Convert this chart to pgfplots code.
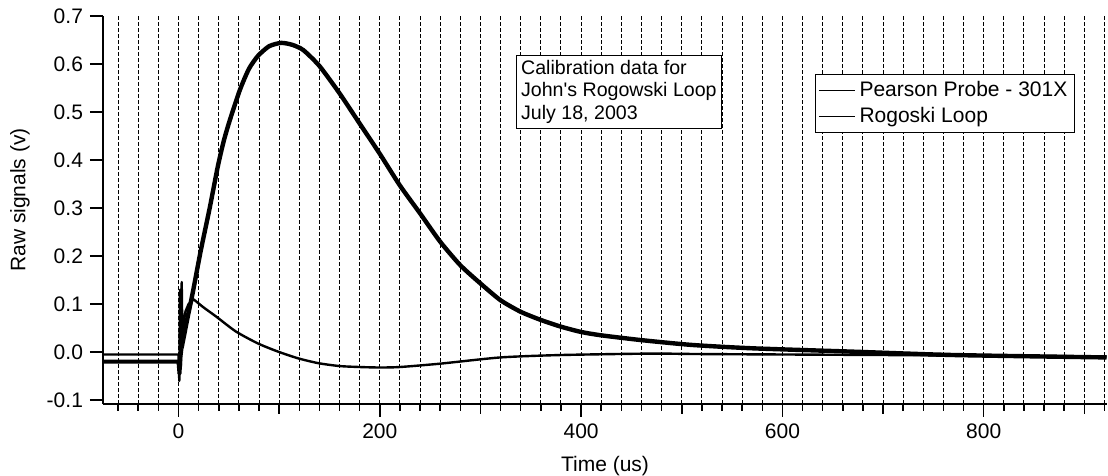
\documentclass[border=0pt]{standalone}
\usepackage{fontspec}
\setmainfont{Liberation Sans}[Ligatures=TeXOff]
\usepackage{pgfplots}
\pgfplotsset{compat=1.18}

% Pearson probe (us, V): trigger part
\pgfplotstableread{
t v
-75 -0.020
-40 -0.020
0 -0.020
1 -0.045
2 -0.010
3 0.008
}\pearsonpre

% Pearson probe, main pulse
\pgfplotstableread{
t v
3 0.008
6 0.040
9 0.072
14 0.122
22 0.210
31 0.300
39 0.386
45 0.440
51 0.483
61 0.546
70 0.590
79 0.617
90 0.637
102 0.644
113 0.640
124 0.629
140 0.596
160 0.539
180 0.476
200 0.413
220 0.347
240 0.289
260 0.230
280 0.181
300 0.143
320 0.108
340 0.084
360 0.067
380 0.053
400 0.042
420 0.035
460 0.025
510 0.015
570 0.008
670 0.001
770 -0.006
922 -0.011
}\pearson

% Rogowski loop: trigger part
\pgfplotstableread{
t v
-75 -0.005
-40 -0.005
0 -0.005
0.8 -0.060
1.5 0.130
2.3 -0.030
3.2 0.146
4 0.010
5 0.060
7 0.085
10 0.100
15 0.110
}\rogowskipre

% Rogowski loop: decay
\pgfplotstableread{
t v
15 0.110
25 0.093
37.5 0.074
57 0.043
79 0.018
99 0.001
119 -0.013
139 -0.023
160 -0.029
180 -0.031
200 -0.032
220 -0.031
260 -0.024
320 -0.011
380 -0.006
470 -0.003
520 -0.004
700 -0.006
922 -0.009
}\rogowski

\begin{document}
\begin{tikzpicture}[font=\fontsize{10.5}{12.5}\selectfont]
\begin{axis}[
    at={(0,0)}, anchor=south west,
    scale only axis,
    width=502pt, height=194pt,
    xmin=-75, xmax=922.5,
    ymin=-0.108, ymax=0.7,
    axis lines=left,
    axis line style={-, line width=0.75pt},
    tick align=outside,
    tick style={black, line width=0.75pt},
    major tick length=6.5pt,
    minor tick length=3.5pt,
    xtick={0,200,...,800},
    minor xtick={-60,-40,...,920},
    extra x ticks={100,300,500,700,900},
    extra x tick labels={},
    extra x tick style={major tick length=5pt, grid=none},
    ytick={-0.1,0,...,0.7},
    yticklabel style={/pgf/number format/.cd, fixed, fixed zerofill, precision=1},
    tick label style={font=\fontsize{10.5}{12}\selectfont},
    /pgf/number format/assume math mode=true,
    xmajorgrids, xminorgrids,
    grid style={black, line width=0.5pt, dash pattern=on 2pt off 1pt},
    minor grid style={black, line width=0.5pt, dash pattern=on 2pt off 1pt},
    xlabel={Time (us)},
    ylabel={Raw signals (v)},
    xlabel style={at={(axis description cs:0.5,-0.1745)}, anchor=base},
    ylabel style={at={(axis description cs:-0.0827,0.526)}, anchor=center},
    legend style={at={(axis description cs:0.709,0.8505)}, anchor=north west,
        draw=black, fill=white, line width=0.5pt, inner sep=1.5pt,
        font=\fontsize{10.5}{10}\selectfont},
    legend cell align=left,
    legend image code/.code={\draw[black, line width=0.6pt] (0pt,0pt) -- (18pt,0pt);},
]
\addplot[black, line width=2pt, line join=round, forget plot] table[x=t, y=v] {\pearsonpre};
\addplot[black, line width=2.2pt, smooth, tension=0.4] table[x=t, y=v] {\pearson};
\addlegendentry{Pearson Probe - 301X}
\addplot[black, line width=1.2pt, line join=round, forget plot] table[x=t, y=v] {\rogowskipre};
\addplot[black, line width=1.2pt, smooth, tension=0.4] table[x=t, y=v] {\rogowski};
\addlegendentry{Rogoski Loop}
\node[draw=black, fill=white, line width=0.5pt, align=left, anchor=north west,
      inner sep=2.5pt, font=\fontsize{9.8}{11.3}\selectfont]
    at (axis description cs:0.411,0.9003)
    {Calibration data for\\John's Rogowski Loop\\July 18, 2003};
\end{axis}
\pgfresetboundingbox
\path[use as bounding box] (-51.5pt,-36pt) rectangle (502.5pt,202pt);
\end{tikzpicture}
\end{document}
